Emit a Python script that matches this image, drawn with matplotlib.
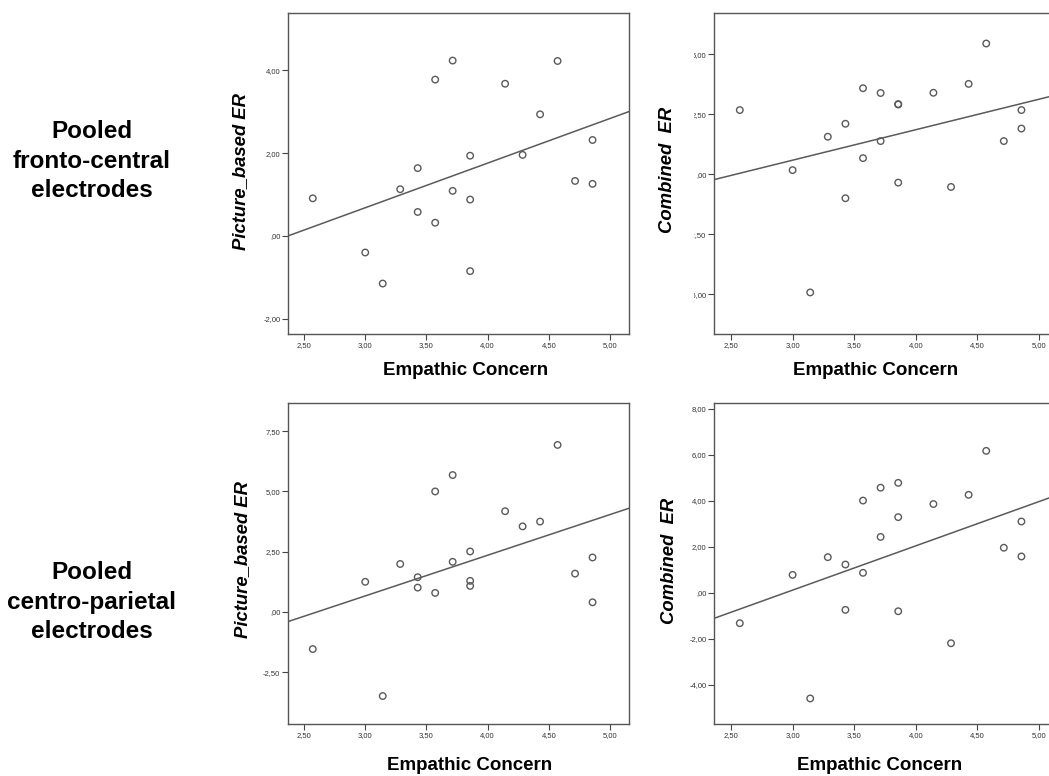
import numpy as np
import matplotlib
matplotlib.use("Agg")
import matplotlib.pyplot as plt
from matplotlib.transforms import Bbox

plt.rcParams['font.family'] = ['Liberation Sans', 'DejaVu Sans']

# Empathic Concern scores (same subjects in every panel)
ec = [18/7, 3.0, 22/7, 23/7, 24/7, 24/7, 25/7, 25/7, 26/7, 26/7,
      27/7, 27/7, 27/7, 29/7, 30/7, 31/7, 32/7, 33/7, 34/7, 34/7]

# ER values, same subject order as ec
fc_picture = [0.91, -0.40, -1.15, 1.13, 1.64, 0.58, 3.78, 0.32, 4.24, 1.09,
              1.94, 0.88, -0.85, 3.68, 1.96, 2.94, 4.23, 1.33, 2.32, 1.26]
fc_combined = [2.67, 0.17, -4.92, 1.56, 2.10, -1.00, 3.58, 0.67, 3.38, 1.38,
               2.92, 2.90, -0.35, 3.39, -0.53, 3.76, 5.44, 1.38, 2.67, 1.90]
cp_picture = [-1.54, 1.25, -3.49, 1.99, 1.44, 1.01, 5.00, 0.79, 5.68, 2.08,
              2.51, 1.29, 1.08, 4.18, 3.55, 3.75, 6.93, 1.59, 2.26, 0.40]
cp_combined = [-1.32, 0.78, -4.59, 1.55, 1.23, -0.74, 4.01, 0.87, 4.57, 2.43,
               4.78, 3.29, -0.80, 3.86, -2.19, 4.26, 6.17, 1.96, 3.10, 1.58]

x_ticks = [2.5, 3.0, 3.5, 4.0, 4.5, 5.0]
x_ticklabels = ["2,50", "3,00", "3,50", "4,00", "4,50", "5,00"]

panels = [
    # values, ylabel, yticks, yticklabels, ylim, rect(px: left, top, width, height), xlim
    (fc_picture, "Picture_based ER", [-2, 0, 2, 4], ["-2,00", ",00", "2,00", "4,00"],
     (-2.37, 5.39), (288, 13, 341, 321), (2.369, 5.155)),
    (fc_combined, "Combined  ER", [-5, -2.5, 0, 2.5, 5],
     ["-5,00", "-2,50", ",00", "2,50", "5,00"],
     (-6.65, 6.71), (714, 13, 344, 321), (2.362, 5.154)),
    (cp_picture, "Picture_based ER", [-2.5, 0, 2.5, 5, 7.5],
     ["-2,50", ",00", "2,50", "5,00", "7,50"],
     (-4.65, 8.67), (288, 403, 341, 321), (2.369, 5.155)),
    (cp_combined, "Combined  ER", [-4, -2, 0, 2, 4, 6, 8],
     ["-4,00", "-2,00", ",00", "2,00", "4,00", "6,00", "8,00"],
     (-5.70, 8.25), (714, 403, 344, 321), (2.362, 5.154)),
]

W, H = 1049, 776
fig = plt.figure(figsize=(W / 100, H / 100), dpi=100)

line_col = "#5a5a5a"
axes = []
for vals, ylab, yt, ytl, ylim, (l, t, w, h), xlim in panels:
    ax = fig.add_axes([l / W, 1 - (t + h) / H, w / W, h / H])
    ax.scatter(ec, vals, s=22, facecolors="none", edgecolors=line_col,
               linewidths=1.0, zorder=3)
    b, a = np.polyfit(ec, vals, 1)
    xs = np.array(xlim)
    ax.plot(xs, a + b * xs, color=line_col, lw=1.1, zorder=2)
    ax.set_xlim(xlim)
    ax.set_ylim(ylim)
    ax.set_xticks(x_ticks)
    ax.set_xticklabels(x_ticklabels)
    ax.set_yticks(yt)
    ax.set_yticklabels(ytl)
    ax.tick_params(length=4, width=0.8, color="#444444", labelsize=5.5,
                   labelcolor="#333333", pad=1.5)
    for sp in ax.spines.values():
        sp.set_color("#555555")
        sp.set_linewidth(1.0)
    axes.append(ax)

# axis titles
ylab_pos = [(241, 172), (668, 170), (243, 560), (669, 561)]
for (vals, ylab, *_), (xp, yp) in zip(panels, ylab_pos):
    fig.text(xp / W, 1 - yp / H, ylab, rotation=90, ha="center", va="center",
             fontsize=13.3, fontweight="bold", fontstyle="italic")

for xp, yp in [(466, 370), (876, 370), (470, 765), (880, 765)]:
    fig.text(xp / W, 1 - yp / H, "Empathic Concern", ha="center", va="center",
             fontsize=13.5, fontweight="bold")

fig.text(92 / W, 1 - 161 / H, "Pooled\nfronto-central\nelectrodes", ha="center",
         va="center", fontsize=17.5, fontweight="bold", linespacing=1.35)
fig.text(92 / W, 1 - 602 / H, "Pooled\ncentro-parietal\nelectrodes", ha="center",
         va="center", fontsize=17.5, fontweight="bold", linespacing=1.35)

# the top-right tick labels are cut off on their left side
fig.canvas.draw()
clip = Bbox.from_extents(694, 0, 760, H)
for lab in axes[1].get_yticklabels():
    lab.set_clip_box(clip)
    lab.set_clip_on(True)

fig.savefig("out.png", dpi=100)
